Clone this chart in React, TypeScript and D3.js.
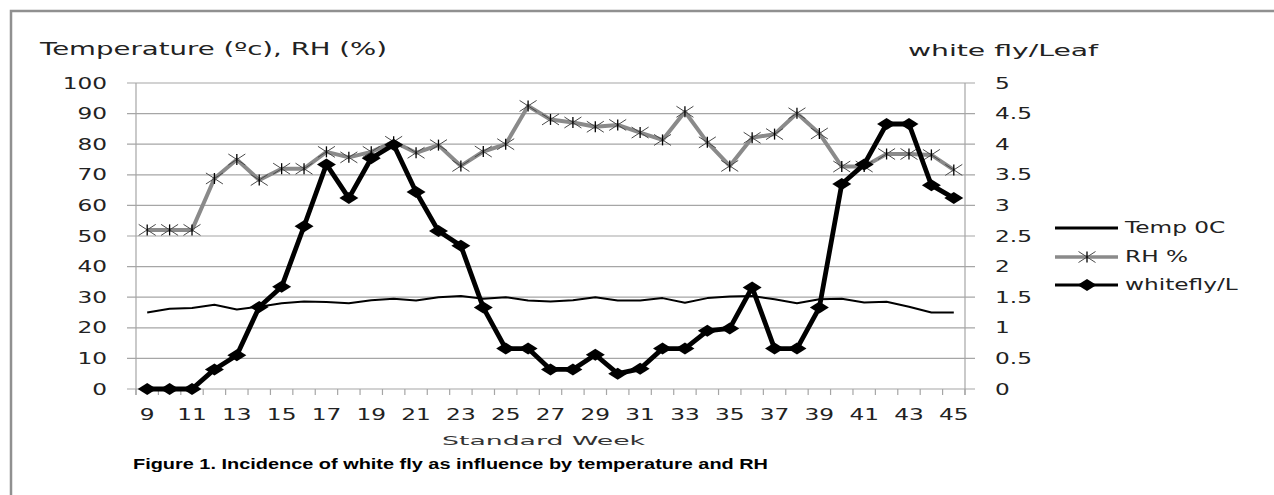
import React from "react";
import * as d3 from "d3";

const weeks = [9,10,11,12,13,14,15,16,17,18,19,20,21,22,23,24,25,26,27,28,29,30,31,32,33,34,35,36,37,38,39,40,41,42,43,44,45];
const tempC = [25,26.2,26.5,27.5,26,26.9,28,28.6,28.4,28,29,29.5,28.9,30,30.4,29.5,30,28.9,28.6,29,30,28.9,28.9,29.7,28.2,29.7,30.2,30.4,29.3,28,29.3,29.5,28.3,28.5,26.9,25,25];
const rhPct = [52,52,52,68.8,75,68.3,72,72,77.5,75.7,77.5,80.8,77.2,79.7,72.9,77.6,80,92.5,88.1,87.1,85.7,86.3,83.8,81.4,90.6,80.6,72.9,82.1,83.3,90.1,83.5,72.7,72.7,76.8,76.8,76.5,71.6];
const whiteflyPerLeaf = [0,0,0,0.32,0.55,1.34,1.67,2.66,3.67,3.12,3.77,3.99,3.22,2.58,2.34,1.33,0.66,0.66,0.32,0.32,0.56,0.25,0.33,0.66,0.66,0.95,0.99,1.66,0.66,0.66,1.33,3.35,3.67,4.33,4.33,3.33,3.12];
const leftTicks = [0,10,20,30,40,50,60,70,80,90,100];
const rightTicks = [0,0.5,1,1.5,2,2.5,3,3.5,4,4.5,5];
const rightTickLabels = ["0","0.5","1","1.5","2","2.5","3","3.5","4","4.5","5"];
const legendLabels = ["Temp 0C","RH %","whitefly/L"];

const FONT = "'DejaVu Sans', Verdana, sans-serif";
const SX = 1.55;

function StretchText({ x, y, anchor = "start", size = 15, fill = "#222", children }: any) {
  return (
    <text transform={`translate(${x},${y}) scale(${SX},1)`} textAnchor={anchor} fontSize={size} fontFamily={FONT} fill={fill}>
      {children}
    </text>
  );
}

const starPath = "M-8.5,-5.5L8.5,5.5M-8.5,5.5L8.5,-5.5";
const starV = "M0,-5.5L0,5.5";
const diamondPath = "M-9.5,0L0,-6L9.5,0L0,6Z";

export default function App() {
  const left = 136, right = 965, top = 83, bottom = 389;
  const x = d3.scaleBand<number>().domain(weeks).range([left, right]).padding(0);
  const cx = (w: number) => (x(w) as number) + x.bandwidth() / 2;
  const yL = d3.scaleLinear().domain([0, 100]).range([bottom, top]);
  const yR = d3.scaleLinear().domain([0, 5]).range([bottom, top]);

  const lineT = d3.line<number>().x((_, i) => cx(weeks[i])).y((d) => yL(d));
  const lineR = d3.line<number>().x((_, i) => cx(weeks[i])).y((d) => yR(d));

  const boundaries = weeks.map((w) => x(w) as number).concat([right]);
  const grid = "#a6a6a6";

  return (
    <svg width={1274} height={495} style={{ position: "absolute", left: 0, top: 0, background: "#fff" }}>
      <rect x={0} y={0} width={1274} height={495} fill="#fff" />
      {/* outer border */}
      <path d="M11,520L11,11L1300,11" fill="none" stroke="#909090" strokeWidth={2.5} />

      {/* gridlines */}
      {leftTicks.map((t) => (
        <line key={"g" + t} x1={127} x2={975} y1={yL(t)} y2={yL(t)} stroke={grid} strokeWidth={1.2} />
      ))}
      {/* axes */}
      <line x1={left} x2={left} y1={top} y2={bottom + 6} stroke={grid} strokeWidth={1.2} />
      <line x1={right} x2={right} y1={top} y2={bottom + 6} stroke={grid} strokeWidth={1.2} />
      {boundaries.map((b, i) => (
        <line key={"xt" + i} x1={b} x2={b} y1={bottom} y2={bottom + 6} stroke={grid} strokeWidth={1.2} />
      ))}

      {/* left tick labels */}
      {leftTicks.map((t) => (
        <StretchText key={"lt" + t} x={107} y={yL(t) + 5.5} anchor="end">{String(t)}</StretchText>
      ))}
      {/* right tick labels */}
      {rightTicks.map((t, i) => (
        <StretchText key={"rt" + t} x={995} y={yR(t) + 5.5}>{rightTickLabels[i]}</StretchText>
      ))}
      {/* x tick labels */}
      {weeks.filter((w) => w % 2 === 1).map((w) => (
        <StretchText key={"xl" + w} x={cx(w)} y={420} anchor="middle">{String(w)}</StretchText>
      ))}

      {/* titles */}
      <text x={40} y={55} fontSize={17} fontFamily={FONT} fill="#222" textLength={347} lengthAdjust="spacingAndGlyphs">Temperature (ºc), RH (%)</text>
      <text x={908} y={56} fontSize={16} fontFamily={FONT} fill="#222" textLength={190} lengthAdjust="spacingAndGlyphs">white fly/Leaf</text>
      <text x={442} y={445} fontSize={13} fontFamily={FONT} fill="#333" textLength={203} lengthAdjust="spacingAndGlyphs">Standard  Week</text>
      <text x={133} y={469} fontSize={14} fontWeight="bold" fontFamily="'Liberation Sans', Arial, sans-serif" fill="#000" textLength={635} lengthAdjust="spacingAndGlyphs">Figure  1.  Incidence of white fly as influence by temperature and RH</text>

      {/* RH series */}
      <path d={lineT(rhPct) || ""} fill="none" stroke="#8a8a8a" strokeWidth={4} strokeLinejoin="round" />
      {rhPct.map((v, i) => (
        <g key={"rh" + i} transform={`translate(${cx(weeks[i])},${yL(v)})`}>
          <path d={starPath} stroke="#4a4a4a" strokeWidth={1} fill="none" />
          <path d={starV} stroke="#000" strokeWidth={1.3} fill="none" />
        </g>
      ))}
      {/* Temp series */}
      <path d={lineT(tempC) || ""} fill="none" stroke="#000" strokeWidth={2} strokeLinejoin="round" />
      {/* whitefly series */}
      <path d={lineR(whiteflyPerLeaf) || ""} fill="none" stroke="#000" strokeWidth={4.8} strokeLinejoin="round" />
      {whiteflyPerLeaf.map((v, i) => (
        <path key={"wf" + i} d={diamondPath} transform={`translate(${cx(weeks[i])},${yR(v)})`} fill="#000" />
      ))}

      {/* legend */}
      <g>
        <line x1={1055} x2={1118} y1={228} y2={228} stroke="#000" strokeWidth={3} />
        <line x1={1055} x2={1118} y1={257} y2={257} stroke="#8a8a8a" strokeWidth={3.5} />
        <g transform="translate(1087,257)">
          <path d={starPath} stroke="#4a4a4a" strokeWidth={1} fill="none" />
          <path d={starV} stroke="#000" strokeWidth={1.3} fill="none" />
        </g>
        <line x1={1055} x2={1118} y1={285} y2={285} stroke="#000" strokeWidth={3} />
        <path d={diamondPath} transform="translate(1087,285)" fill="#000" />
        {legendLabels.map((l, i) => (
          <StretchText key={l} x={1125} y={[233, 262, 290][i]}>{l}</StretchText>
        ))}
      </g>
    </svg>
  );
}
